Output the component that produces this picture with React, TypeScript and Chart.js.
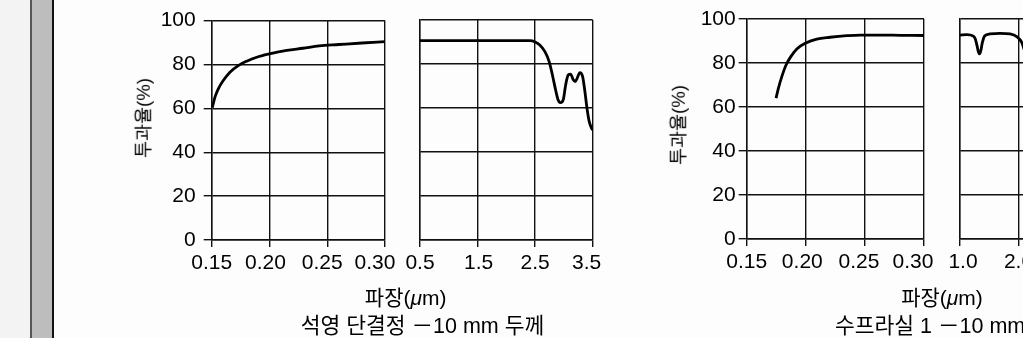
import React, { useEffect, useRef } from "react";
import { Chart, registerables } from "chart.js";

Chart.register(...registerables);

// ---------- data ----------
const yTicks = [0, 20, 40, 60, 80, 100];

const uvTicks = [0.15, 0.2, 0.25, 0.3];
const uvTickLabels = ["0.15", "0.20", "0.25", "0.30"];

const quartzIrTicks = [0.5, 1.5, 2.5, 3.5];
const quartzIrTickLabels = ["0.5", "1.5", "2.5", "3.5"];

const suprasilIrTicks = [1.0, 2.0, 3.0, 4.0];
const suprasilIrTickLabels = ["1.0", "2.0", "3.0", "4.0"];

// 석영 단결정 (quartz single crystal), UV region
const quartzUvWl = [0.1505, 0.1529, 0.1557, 0.16, 0.1658, 0.173, 0.1803, 0.189, 0.2, 0.215, 0.229, 0.243, 0.26, 0.28, 0.3];
const quartzUvT = [60.3, 65.2, 68.9, 72.7, 76.5, 79.5, 81.5, 83.3, 84.8, 86.4, 87.4, 88.5, 89.1, 89.8, 90.4];

// 석영 단결정, IR region
const quartzIrWl = [0.5, 1.0, 1.5, 2.0, 2.41, 2.5, 2.58, 2.67, 2.745, 2.8, 2.856, 2.9, 2.94, 2.99, 3.03, 3.075, 3.116, 3.16, 3.197, 3.23, 3.278, 3.325, 3.365, 3.405, 3.44, 3.48, 3.5];
const quartzIrT = [90.6, 90.6, 90.6, 90.6, 90.6, 90.0, 88.6, 85.6, 81.0, 75.0, 68.2, 63.6, 62.4, 63.9, 70.5, 75.0, 75.4, 73.0, 72.0, 73.5, 76.1, 74.3, 67.4, 59.1, 53.8, 50.8, 50.0];

// 수프라실 1 (Suprasil 1), UV region
const suprasilUvWl = [0.1748, 0.1768, 0.1797, 0.1833, 0.1873, 0.1924, 0.2, 0.2093, 0.2206, 0.2347, 0.246, 0.26, 0.28, 0.3];
const suprasilUvT = [64.0, 68.5, 73.8, 79.1, 82.9, 86.4, 89.1, 90.9, 91.7, 92.4, 92.7, 92.7, 92.6, 92.5];

// 수프라실 1, IR region (visible part)
const suprasilIrWl = [1.0, 1.114, 1.228, 1.26, 1.29, 1.315, 1.335, 1.355, 1.38, 1.42, 1.513, 1.684, 1.855, 1.97, 2.055, 2.12];
const suprasilIrT = [92.7, 92.9, 92.2, 91.0, 88.0, 85.0, 84.2, 85.5, 89.0, 92.3, 93.2, 93.5, 93.2, 92.0, 89.4, 84.0];

const yTitle = "투과율(%)";
const quartzCaption = "석영 단결정 －10 mm 두께";
const suprasilCaption = "수프라실 1 －10 mm 두께";

// ---------- styling ----------
const LATIN = '"Liberation Sans", Arial, Helvetica, sans-serif';
const MIXED = '"Liberation Sans", Arial, "Noto Sans CJK KR", sans-serif';
const GRID = "#111";
const TICK_FONT = 21;

type Area = { left: number; top: number; right: number; bottom: number };

type PanelProps = {
  left: number;
  top: number;
  width: number;
  height: number;
  area: Area;
  xMin: number;
  xMax: number;
  xTicks: number[];
  xLabels: string[];
  xNudges: number[];
  xs: number[];
  ys: number[];
  showY: boolean;
  yPad: number;
};

function makeXLabelPlugin(xTicks: number[], xLabels: string[], xNudges: number[]) {
  return {
    id: "nudgedXLabels",
    afterDraw(chart: any) {
      const { ctx, chartArea } = chart;
      const scale = chart.scales.x;
      ctx.save();
      ctx.font = `${TICK_FONT}px ${LATIN}`;
      ctx.fillStyle = "#000";
      ctx.textAlign = "center";
      ctx.textBaseline = "middle";
      xTicks.forEach((v, i) => {
        ctx.fillText(xLabels[i], scale.getPixelForValue(v) + (xNudges[i] || 0), chartArea.bottom + 23);
      });
      ctx.restore();
    },
  };
}

function Panel(p: PanelProps) {
  const ref = useRef<HTMLCanvasElement | null>(null);
  useEffect(() => {
    if (!ref.current) return;
    const chart = new Chart(ref.current, {
      type: "line",
      data: {
        datasets: [
          {
            data: p.xs.map((x, i) => ({ x, y: p.ys[i] })),
            borderColor: "#000",
            borderWidth: 2.8,
            pointRadius: 0,
            fill: false,
            cubicInterpolationMode: "monotone",
          },
        ],
      },
      options: {
        animation: false,
        responsive: false,
        maintainAspectRatio: false,
        devicePixelRatio: 1,
        layout: {
          padding: {
            left: 0,
            top: p.area.top - p.top,
            right: p.left + p.width - p.area.right,
            bottom: 0,
          },
        },
        plugins: { legend: { display: false }, tooltip: { enabled: false }, title: { display: false } },
        scales: {
          x: {
            type: "linear",
            min: p.xMin,
            max: p.xMax,
            afterBuildTicks: (s: any) => {
              s.ticks = p.xTicks.map((v) => ({ value: v }));
            },
            afterFit: (s: any) => {
              s.height = p.top + p.height - p.area.bottom;
            },
            ticks: { display: false },
            grid: { color: GRID, lineWidth: 1.4, drawTicks: true, tickLength: 7 },
            border: { display: true, color: GRID, width: 1.4 },
          },
          y: {
            type: "linear",
            min: 0,
            max: 100,
            afterBuildTicks: (s: any) => {
              s.ticks = yTicks.map((v) => ({ value: v }));
            },
            afterFit: (s: any) => {
              s.width = p.area.left - p.left;
            },
            ticks: {
              display: p.showY,
              padding: p.yPad,
              color: "#000",
              font: { family: LATIN, size: TICK_FONT },
              callback: (v: any) => String(v),
            },
            grid: { color: GRID, lineWidth: 1.4, drawTicks: p.showY, tickLength: 8 },
            border: { display: true, color: GRID, width: 1.4 },
          },
        },
      } as any,
      plugins: [makeXLabelPlugin(p.xTicks, p.xLabels, p.xNudges)],
    });
    return () => chart.destroy();
  }, []);
  return (
    <canvas
      ref={ref}
      width={p.width}
      height={p.height}
      style={{ position: "absolute", left: p.left, top: p.top, width: p.width, height: p.height }}
    />
  );
}

function Label(props: { x: number; y: number; size: number; align?: "center" | "left"; children: any }) {
  const { x, y, size, align, children } = props;
  const tx = align === "left" ? "0" : "-50%";
  return (
    <div
      style={{
        position: "absolute",
        left: x,
        top: y,
        transform: `translate(${tx}, -50%)`,
        fontFamily: MIXED,
        fontSize: size,
        lineHeight: 1,
        color: "#000",
        whiteSpace: "nowrap",
      }}
    >
      {children}
    </div>
  );
}

function RotLabel(props: { x: number; y: number; size: number; children: any }) {
  return (
    <div style={{ position: "absolute", left: props.x, top: props.y, width: 0, height: 0 }}>
      <div
        style={{
          position: "absolute",
          left: 0,
          top: 0,
          transform: "translate(-50%, -50%) rotate(-90deg)",
          fontFamily: MIXED,
          fontSize: props.size,
          lineHeight: 1,
          color: "#000",
          whiteSpace: "nowrap",
        }}
      >
        {props.children}
      </div>
    </div>
  );
}

function XTitle() {
  return (
    <span>
      파장(<i>μ</i>m)
    </span>
  );
}

export default function App() {
  return (
    <div
      style={{
        position: "absolute",
        left: 0,
        top: 0,
        width: 1023,
        height: 338,
        overflow: "hidden",
        background: "#fdfdfd",
      }}
    >
      {/* binding strip at the left */}
      <div style={{ position: "absolute", left: 0, top: 0, width: 30, height: 338, background: "#f3f3f3" }} />
      <div style={{ position: "absolute", left: 30, top: 0, width: 2, height: 338, background: "#555" }} />
      <div style={{ position: "absolute", left: 32, top: 0, width: 20, height: 338, background: "#bdbdbd" }} />
      <div style={{ position: "absolute", left: 52, top: 0, width: 1.5, height: 338, background: "#111" }} />

      {/* 석영 단결정 */}
      <Panel
        left={140}
        top={0}
        width={270}
        height={290}
        area={{ left: 211.7, top: 20, right: 385, bottom: 240 }}
        xMin={0.15}
        xMax={0.3}
        xTicks={uvTicks}
        xLabels={uvTickLabels}
        xNudges={[0, -4, -5, -10]}
        xs={quartzUvWl}
        ys={quartzUvT}
        showY={true}
        yPad={8}
      />
      <Panel
        left={400}
        top={0}
        width={220}
        height={290}
        area={{ left: 420, top: 20, right: 592.7, bottom: 240 }}
        xMin={0.5}
        xMax={3.5}
        xTicks={quartzIrTicks}
        xLabels={quartzIrTickLabels}
        xNudges={[0, 1, 0, -6]}
        xs={quartzIrWl}
        ys={quartzIrT}
        showY={false}
        yPad={0}
      />
      <RotLabel x={144} y={117.5} size={18.5}>
        {yTitle}
      </RotLabel>
      <Label x={405.7} y={296.5} size={21}>
        <XTitle />
      </Label>
      <Label x={422.5} y={326.5} size={21.5}>
        {quartzCaption}
      </Label>

      {/* 수프라실 1 */}
      <Panel
        left={680}
        top={0}
        width={260}
        height={290}
        area={{ left: 746.7, top: 19, right: 924, bottom: 239 }}
        xMin={0.15}
        xMax={0.3}
        xTicks={uvTicks}
        xLabels={uvTickLabels}
        xNudges={[0, -3.5, -6, -11]}
        xs={suprasilUvWl}
        ys={suprasilUvT}
        showY={true}
        yPad={3}
      />
      <Panel
        left={940}
        top={0}
        width={220}
        height={290}
        area={{ left: 960, top: 19, right: 1135.5, bottom: 239 }}
        xMin={1.0}
        xMax={4.0}
        xTicks={suprasilIrTicks}
        xLabels={suprasilIrTickLabels}
        xNudges={[3, 0, 0, 0]}
        xs={suprasilIrWl}
        ys={suprasilIrT}
        showY={false}
        yPad={0}
      />
      <RotLabel x={679} y={125} size={18.5}>
        {yTitle}
      </RotLabel>
      <Label x={942} y={296.5} size={21}>
        <XTitle />
      </Label>
      <Label x={835} y={326.5} size={21.5} align="left">
        {suprasilCaption}
      </Label>
    </div>
  );
}
